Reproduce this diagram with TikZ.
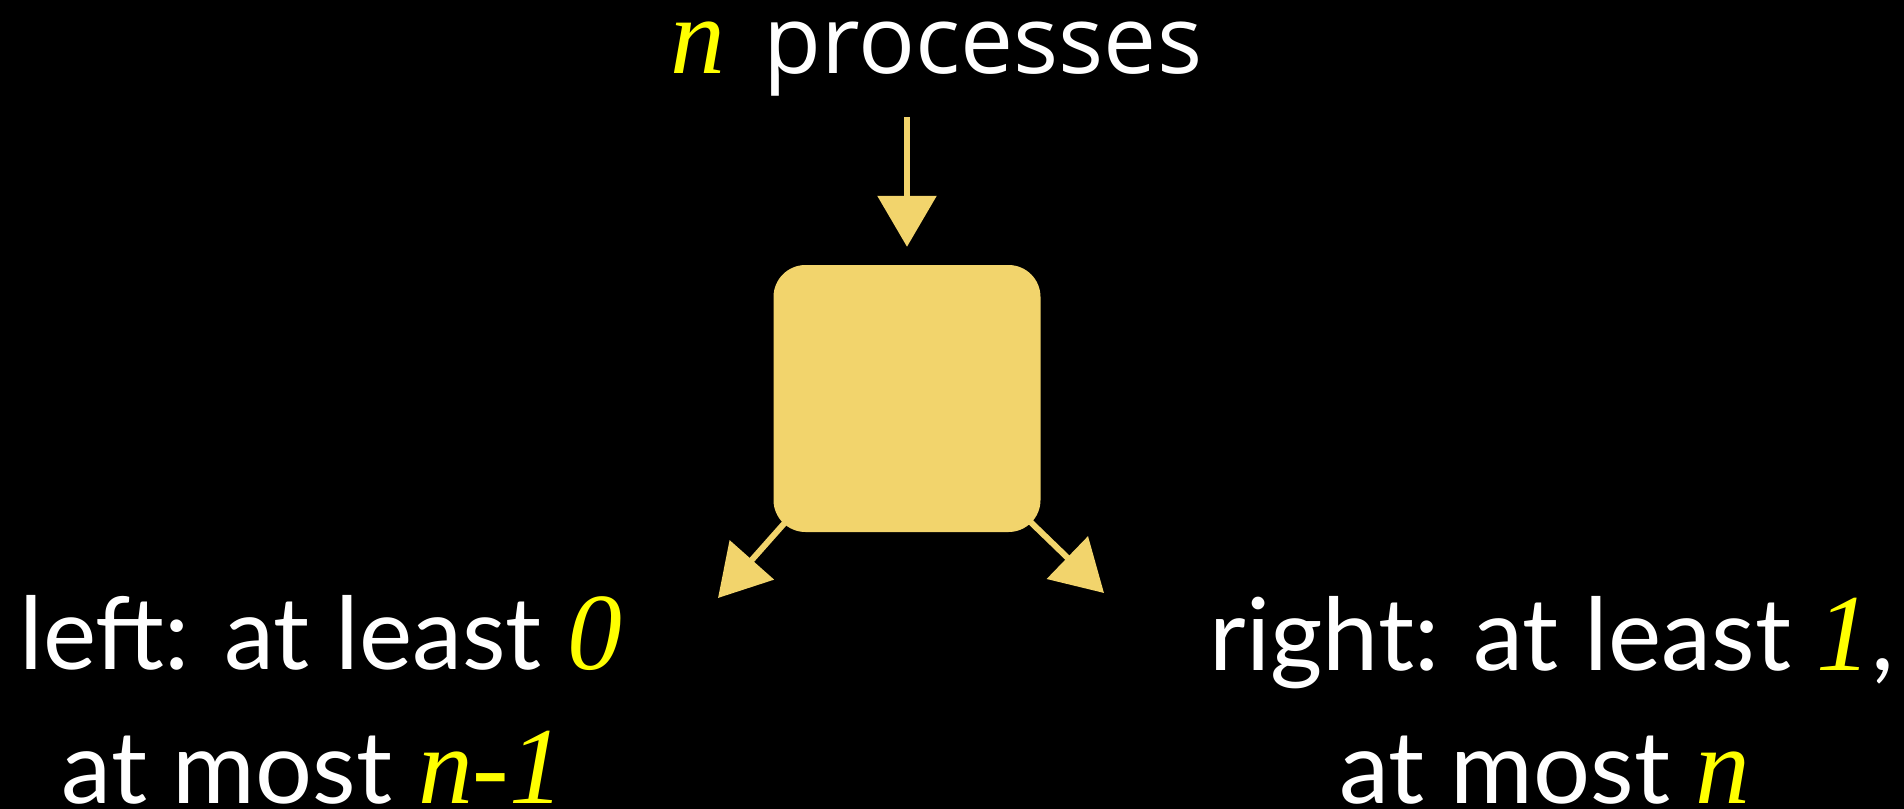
\documentclass[tikz,border=0pt]{standalone}
\usepackage{fontspec}
\usetikzlibrary{arrows.meta}
\newfontfamily\gillf{Lato}
\newfontfamily\lucf{Open Sans}
\newfontfamily\timf{Liberation Serif}
\definecolor{gold}{RGB}{242,212,108}
\definecolor{yel}{RGB}{255,255,0}
\newcommand\yit[1]{{\color{yel}\timf\itshape\fontsize{110}{120}\selectfont #1}}
\begin{document}
\begin{tikzpicture}[x=1bp,y=-1bp,
  lbl/.style={text=white, inner sep=0, anchor=base, font=\gillf\fontsize{101}{120}\selectfont},
  conn/.style={draw=gold, line width=6bp, -{Triangle[length=51bp,width=58bp]}},
  procbox/.style={fill=gold, rounded corners=32bp, minimum width=267bp, minimum height=267bp, inner sep=0}]
\fill[black] (0,0) rectangle (1904,809);
\useasboundingbox (0,0) rectangle (1904,809);

\node[anchor=base west, inner sep=0, text=white, font=\lucf\fontsize{95}{110}\selectfont] (top) at (670,74) {\yit{n}\hspace{14bp} processes};
\node[procbox] (box) at (907,398.5) {};
\coordinate (ts) at (907,117);
\coordinate (lt) at (718,598);
\coordinate (rt) at (1104,593);

\draw[conn, shorten >=18bp] (ts) -- (box.north);
\draw[conn] ([shift={(12,-10)}]box.south west) -- (lt);
\draw[conn] ([shift={(-10,-10)}]box.south east) -- (rt);

\node[lbl] (L1) at (321,669) {left: at least \yit{0}};
\node[lbl] (L2) at (313,803) {at most \yit{n-1}};
\node[lbl] (R1) at (1552,670) {right: at least \yit{1},};
\node[lbl] (R2) at (1545,803) {at most \yit{n}};
\end{tikzpicture}
\end{document}
